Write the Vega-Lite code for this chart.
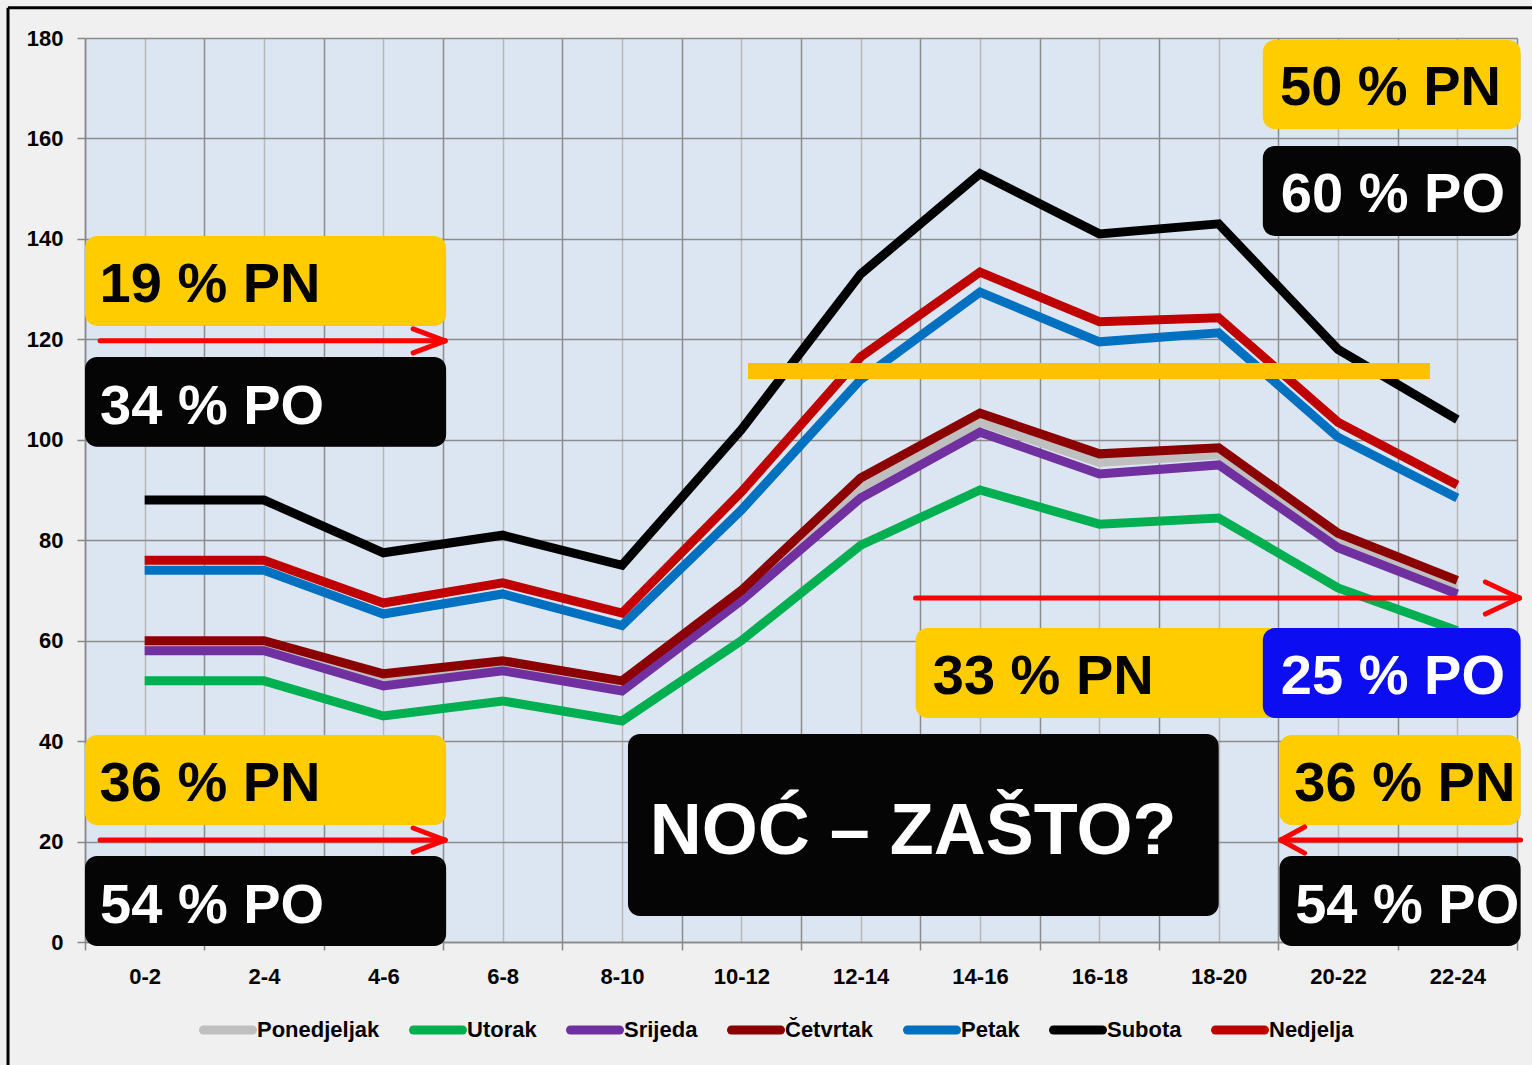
{
  "$schema": "https://vega.github.io/schema/vega-lite/v6.json",
  "width": 1432,
  "height": 904,
  "autosize": {"type": "none"},
  "padding": {"left": 85, "top": 38, "right": 15, "bottom": 123},
  "background": "#f0f0f0",
  "config": {
    "font": "Liberation Sans, Arial, sans-serif",
    "view": {"fill": "#dce6f2", "stroke": null}
  },
  "datasets": {
    "hours": [
      {"i": 0, "t": "0-2", "Ponedjeljak": 59, "Utorak": 52, "Srijeda": 58, "Četvrtak": 60, "Petak": 74, "Subota": 88, "Nedjelja": 76},
      {"i": 1, "t": "2-4", "Ponedjeljak": 59, "Utorak": 52, "Srijeda": 58, "Četvrtak": 60, "Petak": 74, "Subota": 88, "Nedjelja": 76},
      {"i": 2, "t": "4-6", "Ponedjeljak": 52, "Utorak": 45, "Srijeda": 51, "Četvrtak": 53.4, "Petak": 65.3, "Subota": 77.5, "Nedjelja": 67.5},
      {"i": 3, "t": "6-8", "Ponedjeljak": 55, "Utorak": 48, "Srijeda": 54, "Četvrtak": 56, "Petak": 69.3, "Subota": 81, "Nedjelja": 71.5},
      {"i": 4, "t": "8-10", "Ponedjeljak": 51, "Utorak": 44, "Srijeda": 50, "Četvrtak": 52, "Petak": 63, "Subota": 75, "Nedjelja": 65.5},
      {"i": 5, "t": "10-12", "Ponedjeljak": 69, "Utorak": 60, "Srijeda": 68, "Četvrtak": 70, "Petak": 86, "Subota": 102, "Nedjelja": 89.6},
      {"i": 6, "t": "12-14", "Ponedjeljak": 90.5, "Utorak": 79, "Srijeda": 88.4, "Četvrtak": 92.4, "Petak": 112, "Subota": 133, "Nedjelja": 116.5},
      {"i": 7, "t": "14-16", "Ponedjeljak": 103.5, "Utorak": 90, "Srijeda": 101.5, "Četvrtak": 105.3, "Petak": 129.4, "Subota": 153, "Nedjelja": 133.4},
      {"i": 8, "t": "16-18", "Ponedjeljak": 95.5, "Utorak": 83.2, "Srijeda": 93.2, "Četvrtak": 97.2, "Petak": 119.5, "Subota": 141, "Nedjelja": 123.5},
      {"i": 9, "t": "18-20", "Ponedjeljak": 97, "Utorak": 84.4, "Srijeda": 95, "Četvrtak": 98.4, "Petak": 121.3, "Subota": 143, "Nedjelja": 124.3},
      {"i": 10, "t": "20-22", "Ponedjeljak": 80, "Utorak": 70.5, "Srijeda": 78.5, "Četvrtak": 81.4, "Petak": 100.5, "Subota": 118, "Nedjelja": 103.5},
      {"i": 11, "t": "22-24", "Ponedjeljak": 71, "Utorak": 62, "Srijeda": 69.3, "Četvrtak": 72, "Petak": 88.4, "Subota": 104, "Nedjelja": 91}
    ],
    "boxes": [
      {"kind": "PN", "x1": -0.5, "x2": 2.526, "y1": 140.6, "y2": 122.7},
      {"kind": "PO", "x1": -0.5, "x2": 2.526, "y1": 116.5, "y2": 98.6},
      {"kind": "PN", "x1": -0.5, "x2": 2.526, "y1": 41.2, "y2": 23.3},
      {"kind": "PO", "x1": -0.5, "x2": 2.526, "y1": 17.1, "y2": -0.8},
      {"kind": "PO", "x1": 4.05, "x2": 9.0, "y1": 41.4, "y2": 5.2},
      {"kind": "PN", "x1": 9.37, "x2": 11.53, "y1": 179.6, "y2": 161.9},
      {"kind": "PO", "x1": 9.37, "x2": 11.53, "y1": 158.5, "y2": 140.6},
      {"kind": "PN", "x1": 6.46, "x2": 9.6, "y1": 62.5, "y2": 44.6},
      {"kind": "PO2", "x1": 9.37, "x2": 11.53, "y1": 62.5, "y2": 44.6},
      {"kind": "PN", "x1": 9.51, "x2": 11.53, "y1": 41.2, "y2": 23.3},
      {"kind": "PO", "x1": 9.51, "x2": 11.53, "y1": 17.1, "y2": -0.8}
    ],
    "labels": [
      {"text": "19 % PN", "kind": "PN", "x": 0.548, "y": 127.5},
      {"text": "34 % PO", "kind": "PO", "x": 0.565, "y": 103.2},
      {"text": "36 % PN", "kind": "PN", "x": 0.548, "y": 28.0},
      {"text": "54 % PO", "kind": "PO", "x": 0.565, "y": 3.7},
      {"text": "50 % PN", "kind": "PN", "x": 10.44, "y": 166.6},
      {"text": "60 % PO", "kind": "PO", "x": 10.46, "y": 145.3},
      {"text": "33 % PN", "kind": "PN", "x": 7.53, "y": 49.3},
      {"text": "25 % PO", "kind": "PO2", "x": 10.46, "y": 49.3},
      {"text": "36 % PN", "kind": "PN", "x": 10.56, "y": 28.0},
      {"text": "54 % PO", "kind": "PO", "x": 10.58, "y": 3.7},
      {"text": "NOĆ – ZAŠTO?", "kind": "BIG", "x": 6.44, "y": 17.5}
    ],
    "arrows": [
      {"x": -0.374, "y": 119.7, "x2": 2.518, "y2": 119.7},
      {"x": 2.25, "y": 122.1, "x2": 2.518, "y2": 119.7},
      {"x": 2.25, "y": 117.3, "x2": 2.518, "y2": 119.7},
      {"x": -0.374, "y": 20.3, "x2": 2.518, "y2": 20.3},
      {"x": 2.25, "y": 22.7, "x2": 2.518, "y2": 20.3},
      {"x": 2.25, "y": 17.9, "x2": 2.518, "y2": 20.3},
      {"x": 6.46, "y": 68.5, "x2": 11.52, "y2": 68.5},
      {"x": 11.235, "y": 71.7, "x2": 11.52, "y2": 68.5},
      {"x": 11.235, "y": 65.3, "x2": 11.52, "y2": 68.5},
      {"x": 9.52, "y": 20.3, "x2": 11.53, "y2": 20.3},
      {"x": 9.72, "y": 22.9, "x2": 9.52, "y2": 20.3},
      {"x": 9.72, "y": 17.7, "x2": 9.52, "y2": 20.3}
    ],
    "frame": [
      {"x": -1.145, "y": 186, "x2": 11.8, "y2": 186},
      {"x": -1.145, "y": 186, "x2": -1.145, "y2": -25}
    ]
  },
  "layer": [
    {
      "data": {"name": "hours"},
      "transform": [{"fold": ["Ponedjeljak", "Utorak", "Srijeda", "Četvrtak", "Petak", "Subota", "Nedjelja"], "as": ["day", "v"]}],
      "mark": {"type": "line", "strokeWidth": 9},
      "encoding": {
        "x": {
          "field": "i", "type": "quantitative", "title": null,
          "scale": {"domain": [-0.5, 11.5], "nice": false, "zero": false},
          "axis": {
            "values": [-0.5, 0, 0.5, 1, 1.5, 2, 2.5, 3, 3.5, 4, 4.5, 5, 5.5, 6, 6.5, 7, 7.5, 8, 8.5, 9, 9.5, 10, 10.5, 11, 11.5],
            "labelExpr": "datum.value % 1 == 0 ? (datum.value * 2) + '-' + (datum.value * 2 + 2) : ''",
            "labelOverlap": false,
            "labelFlush": false,
            "labelFontSize": 22,
            "labelFontWeight": "bold",
            "labelColor": "#000000",
            "labelPadding": 16,
            "tickSize": 8,
            "tickWidth": 1.5,
            "tickColor": {"condition": {"test": "datum.value % 1 == 0", "value": "rgba(0,0,0,0)"}, "value": "#888888"},
            "grid": true,
            "gridWidth": 1.5,
            "gridColor": {"condition": {"test": "datum.value % 1 == 0", "value": "#b8b8b8"}, "value": "#8c8c8c"},
            "gridOpacity": 1,
            "domainColor": "#888888",
            "domainWidth": 1.5
          }
        },
        "y": {
          "field": "v", "type": "quantitative", "title": null,
          "scale": {"domain": [0, 180], "nice": false},
          "axis": {
            "values": [0, 20, 40, 60, 80, 100, 120, 140, 160, 180],
            "labelFontSize": 22,
            "labelFontWeight": "bold",
            "labelColor": "#000000",
            "labelPadding": 14,
            "tickSize": 8,
            "tickWidth": 1.5,
            "tickColor": "#888888",
            "grid": true,
            "gridWidth": 1.5,
            "gridColor": "#8c8c8c",
            "gridOpacity": 1,
            "domainColor": "#888888",
            "domainWidth": 1.5
          }
        },
        "color": {
          "field": "day", "type": "nominal",
          "scale": {
            "domain": ["Ponedjeljak", "Utorak", "Srijeda", "Četvrtak", "Petak", "Subota", "Nedjelja"],
            "range": ["#bfbfbf", "#00b050", "#7030a0", "#8b0000", "#0070c0", "#000000", "#c00000"]
          },
          "legend": {
            "title": null,
            "orient": "none",
            "legendX": 114,
            "legendY": 963,
            "direction": "horizontal",
            "symbolType": "stroke",
            "symbolSize": 2401,
            "symbolStrokeWidth": 9,
            "labelFontSize": 22,
            "labelFontWeight": "bold",
            "labelColor": "#000000",
            "labelOffset": 0,
            "columnPadding": 15,
            "encode": {"symbols": {"update": {"strokeCap": {"value": "round"}}}}
          }
        }
      }
    },
    {
      "data": {"name": "hours"},
      "mark": {"type": "rule", "color": "#ffc000", "strokeWidth": 15},
      "encoding": {
        "x": {"datum": 5.06, "type": "quantitative", "title": null},
        "x2": {"datum": 10.77},
        "y": {"datum": 113.7, "type": "quantitative", "title": null}
      }
    },
    {
      "data": {"name": "boxes"},
      "mark": {"type": "rect", "cornerRadius": 12, "xOffset": 2, "yOffset": 4, "fill": "#000000", "opacity": 0.22},
      "encoding": {
        "x": {"field": "x1", "type": "quantitative", "title": null},
        "x2": {"field": "x2"},
        "y": {"field": "y1", "type": "quantitative", "title": null},
        "y2": {"field": "y2"}
      }
    },
    {
      "data": {"name": "boxes"},
      "mark": {"type": "rect", "cornerRadius": 12},
      "encoding": {
        "x": {"field": "x1", "type": "quantitative", "title": null},
        "x2": {"field": "x2"},
        "y": {"field": "y1", "type": "quantitative", "title": null},
        "y2": {"field": "y2"},
        "fill": {"condition": [{"test": "datum.kind == 'PN'", "value": "#ffcc00"}, {"test": "datum.kind == 'PO2'", "value": "#0d0df2"}], "value": "#050505"}
      }
    },
    {
      "data": {"name": "labels"},
      "mark": {"type": "text", "fontWeight": "bold", "align": "center", "baseline": "alphabetic"},
      "encoding": {
        "x": {"field": "x", "type": "quantitative", "title": null},
        "y": {"field": "y", "type": "quantitative", "title": null},
        "text": {"field": "text"},
        "size": {"condition": {"test": "datum.kind == 'BIG'", "value": 72}, "value": 56},
        "fill": {"condition": {"test": "datum.kind == 'PN'", "value": "#000000"}, "value": "#ffffff"}
      }
    },
    {
      "data": {"name": "arrows"},
      "mark": {"type": "rule", "color": "#ff0000", "strokeWidth": 5, "strokeCap": "round"},
      "encoding": {
        "x": {"field": "x", "type": "quantitative", "title": null},
        "y": {"field": "y", "type": "quantitative", "title": null},
        "x2": {"field": "x2"},
        "y2": {"field": "y2"}
      }
    },
    {
      "data": {"name": "frame"},
      "mark": {"type": "rule", "color": "#000000", "strokeWidth": 3},
      "encoding": {
        "x": {"field": "x", "type": "quantitative", "title": null},
        "y": {"field": "y", "type": "quantitative", "title": null},
        "x2": {"field": "x2"},
        "y2": {"field": "y2"}
      }
    }
  ]
}
